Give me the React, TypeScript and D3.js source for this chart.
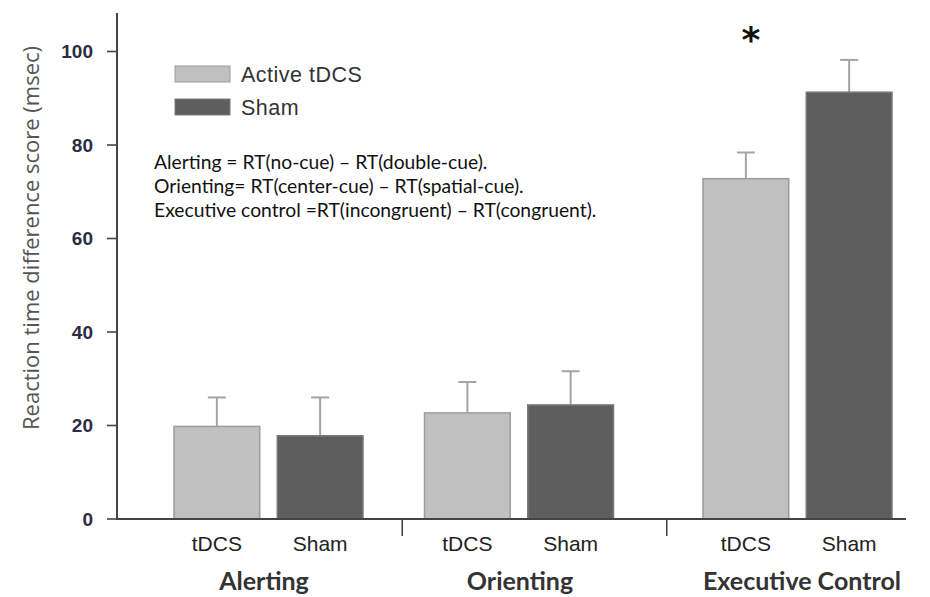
import React from "react";
import * as d3 from "d3";

const groups = ["Alerting", "Orienting", "Executive Control"];
const conditions = ["tDCS", "Sham"];
const seriesNames = ["Active tDCS", "Sham"];
const activeValues = [19.8, 22.7, 72.8];
const shamValues = [17.8, 24.4, 91.3];
const activeSE = [6.2, 6.6, 5.6];
const shamSE = [8.2, 7.2, 6.9];
const yTicks = [0, 20, 40, 60, 80, 100];
const notes = [
  "Alerting = RT(no-cue) \u2013 RT(double-cue).",
  "Orienting= RT(center-cue) \u2013 RT(spatial-cue).",
  "Executive control =RT(incongruent) \u2013 RT(congruent).",
];
const significant = [false, false, true];

const W = 930;
const H = 597;

export default function App() {
  const y = d3.scaleLinear().domain([0, 100]).range([519, 51.5]);
  const xAxisX = 117;
  const groupX = d3.scaleOrdinal<string, number>().domain(groups).range([268.5, 519, 797.5]);
  const labelX = d3.scaleOrdinal<string, number>().domain(groups).range([264, 520, 802]);
  const inner = d3.scaleBand<string>().domain(conditions).range([-94.5, 94.5]).paddingInner(0.17);
  const fills = ["#c0c0c0", "#5e5e5e"];
  const strokes = ["#9c9c9c", "#7a7a7a"];
  const values = [activeValues, shamValues];
  const ses = [activeSE, shamSE];
  const bw = inner.bandwidth();

  return (
    <svg width={W} height={H} style={{ position: "absolute", left: 0, top: 0, background: "#fff" }}>
      {/* y axis title */}
      <text
        transform={`translate(39,238) rotate(-90)`}
        textAnchor="middle"
        fontFamily="'Open Sans', sans-serif"
        fontSize={22}
        fill="#555"
      >
        Reaction time difference score (msec)
      </text>
      {/* y axis */}
      <line x1={xAxisX} x2={xAxisX} y1={13} y2={y(0)} stroke="#444" strokeWidth={2} />
      {yTicks.map((t) => (
        <g key={t}>
          <line x1={xAxisX - 10} x2={xAxisX} y1={y(t)} y2={y(t)} stroke="#444" strokeWidth={1.6} />
          <text
            x={xAxisX - 24}
            y={y(t)}
            dy="0.36em"
            textAnchor="end"
            fontFamily="'Liberation Sans', Arial, sans-serif"
            fontWeight="bold"
            fontSize={19}
            fill="#2c2c44"
          >
            {t}
          </text>
        </g>
      ))}
      {/* bars */}
      {groups.map((g, gi) => (
        <g key={g}>
          {conditions.map((c, ci) => {
            const x0 = groupX(g) + (inner(c) as number);
            const v = values[ci][gi];
            const se = ses[ci][gi];
            const cx = x0 + bw / 2;
            return (
              <g key={c}>
                <line x1={cx} x2={cx} y1={y(v)} y2={y(v + se)} stroke="#a4a4a4" strokeWidth={2} />
                <line x1={cx - 9} x2={cx + 9} y1={y(v + se)} y2={y(v + se)} stroke="#a4a4a4" strokeWidth={2} />
                <rect
                  x={x0}
                  y={y(v)}
                  width={bw}
                  height={y(0) - y(v)}
                  fill={fills[ci]}
                  stroke={strokes[ci]}
                  strokeWidth={1.5}
                />
                <text
                  x={cx}
                  y={551}
                  textAnchor="middle"
                  fontFamily="'Liberation Sans', Arial, sans-serif"
                  fontSize={21}
                  fill="#222"
                >
                  {c}
                </text>
              </g>
            );
          })}
          <text
            x={labelX(g)}
            y={590}
            textAnchor="middle"
            fontFamily="Lato, sans-serif"
            fontWeight="bold"
            fontSize={25}
            fill="#333"
          >
            {g}
          </text>
          {significant[gi] && (
            <text
              x={groupX(g) + (inner(conditions[0]) as number) + bw / 2 + 5}
              y={52}
              textAnchor="middle"
              fontFamily="'DejaVu Sans', sans-serif"
              fontWeight="bold"
              fontSize={36}
              fill="#111"
            >
              *
            </text>
          )}
        </g>
      ))}
      {/* x axis */}
      <line x1={xAxisX - 1} x2={906} y1={y(0)} y2={y(0)} stroke="#444" strokeWidth={2} />
      {groups.slice(0, -1).map((g, i) => {
        const sx = (groupX(g) + groupX(groups[i + 1])) / 2 + 8.5;
        return <line key={g} x1={sx} x2={sx} y1={y(0)} y2={y(0) + 17} stroke="#444" strokeWidth={1.6} />;
      })}
      {/* legend */}
      {seriesNames.map((s, i) => (
        <g key={s} transform={`translate(175,${66 + i * 33})`}>
          <rect x={0} y={0} width={55} height={16} fill={fills[i]} stroke={strokes[i]} strokeWidth={1} />
          <text
            x={66}
            y={15.5}
            fontFamily="'Liberation Sans', Arial, sans-serif"
            fontSize={21.5}
            letterSpacing={0.5}
            fill="#333"
          >
            {s}
          </text>
        </g>
      ))}
      {/* notes */}
      {notes.map((n, i) => (
        <text
          key={n}
          x={154}
          y={169 + i * 24}
          fontFamily="Lato, sans-serif"
          fontSize={19.3}
          fill="#111"
        >
          {n}
        </text>
      ))}
    </svg>
  );
}
